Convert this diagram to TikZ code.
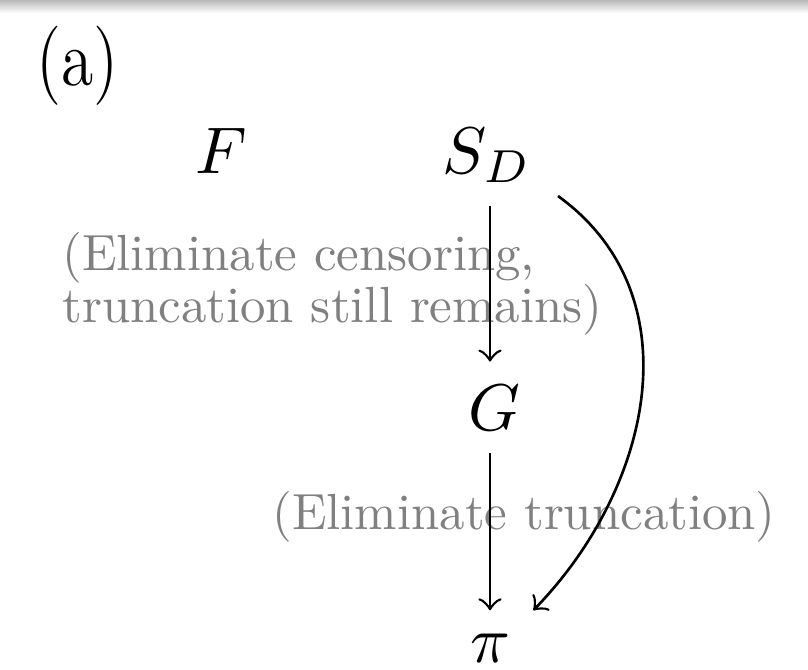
\documentclass[tikz,border=0pt]{standalone}
\usepackage{fontspec}
\newcommand{\notebox}[1]{\scalebox{0.77}{\fontsize{10}{8.66}\selectfont\begin{tabular}[b]{@{}l@{}}#1\end{tabular}}}
\begin{document}
\begin{tikzpicture}[x=0.151515pt,y=-0.151515pt,
  mathnode/.style={inner sep=3.3333pt, font=\fontsize{10}{12}\selectfont},
  note/.style={text=black!50, inner sep=0pt},
  conn/.style={->, line width=0.4pt}]
\useasboundingbox (0,0) rectangle (808,669);
\shade[top color=black!28, bottom color=white, draw=none] (0,0) rectangle (808,13);
\node[inner sep=0pt, anchor=base west, font=\fontsize{12}{14}\selectfont] (lab) at (35,85) {\scalebox{0.83}[1]{(a)}};
\node[mathnode, anchor=base] (f) at (221,173) {$F$};
\node[mathnode, anchor=base] (sd) at (487,173) {$S_D$};
\node[mathnode, anchor=base] (g) at (494,430) {$G$};
\node[mathnode, anchor=base] (pi) at (490,662) {$\pi$};
\node[note, anchor=base west] (t1) at (61,322) {\notebox{(Eliminate censoring,\\truncation still remains)}};
\node[note, anchor=base] (t2) at (524,529) {\notebox{(Eliminate truncation)}};
\coordinate (cs) at (558,196);
\draw[conn] (sd.south -| pi) -- (g.north -| pi);
\draw[conn] (g.south -| pi) -- (pi.north);
\draw[conn] (cs) .. controls (695,295) and (652,488) .. (pi.north east);
\end{tikzpicture}
\end{document}
